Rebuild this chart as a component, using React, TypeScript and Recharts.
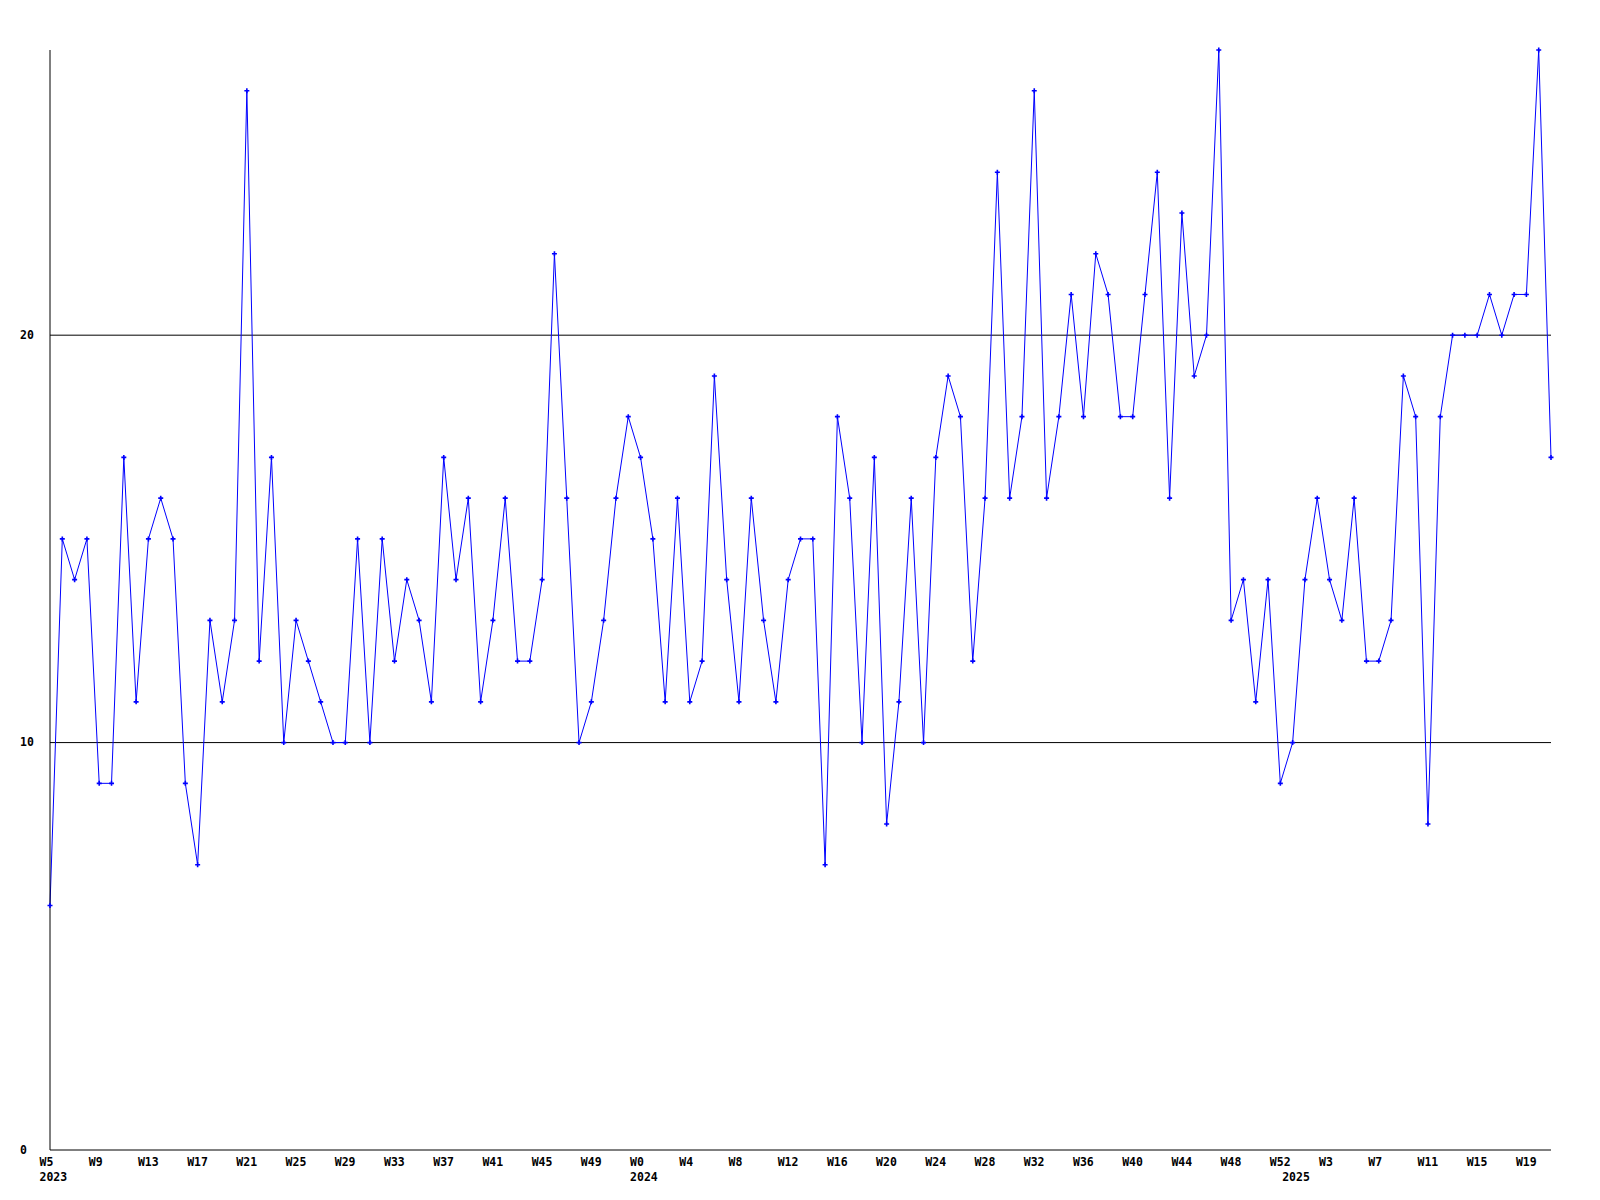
import React from "react";
import { LineChart, Line, XAxis, YAxis, CartesianGrid } from "recharts";

// week ranges per year (first week shown, last week shown)
const YEARS = [
  { year: "2023", from: 5, to: 52 },
  { year: "2024", from: 0, to: 52 },
  { year: "2025", from: 0, to: 21 },
];

const VALUES = [
  6, 15, 14, 15, 9, 9, 17, 11, 15, 16, 15, 9, 7, 13, 11, 13, 26, 12, 17, 10,
  13, 12, 11, 10, 10, 15, 10, 15, 12, 14, 13, 11, 17, 14, 16, 11, 13, 16, 12, 12,
  14, 22, 16, 10, 11, 13, 16, 18, 17, 15, 11, 16, 11, 12, 19, 14, 11, 16, 13, 11,
  14, 15, 15, 7, 18, 16, 10, 17, 8, 11, 16, 10, 17, 19, 18, 12, 16, 24, 16, 18,
  26, 16, 18, 21, 18, 22, 21, 18, 18, 21, 24, 16, 23, 19, 20, 27, 13, 14, 11, 14,
  9, 10, 14, 16, 14, 13, 16, 12, 12, 13, 19, 18, 8, 18, 20, 20, 20, 21, 20, 21,
  21, 27, 17,
];

const Y_TICKS = [0, 10, 20];
const GRID_LINES = [10, 20];

const FONT = "'DejaVu Sans Mono', monospace";

const weeks: { week: number; year: string; first: boolean }[] = [];
YEARS.forEach((y) => {
  for (let w = y.from; w <= y.to; w++) weeks.push({ week: w, year: y.year, first: w === y.from });
});

const data = VALUES.map((v, i) => ({ i, value: v, week: weeks[i].week, year: weeks[i].year, first: weeks[i].first }));

const XTick = (props: any) => {
  const { x, y, payload } = props;
  const d = data[payload.value];
  if (!d) return null;
  return (
    <g>
      {payload.value % 4 === 0 && (
        <text x={x - 10.5} y={y + 12} textAnchor="start" dominantBaseline="middle" fontFamily={FONT} fontWeight="bold" fontSize={11.5} fill="#000">
          {"W" + d.week}
        </text>
      )}
      {d.first && (
        <text x={x - 10.5} y={y + 27} textAnchor="start" dominantBaseline="middle" fontFamily={FONT} fontWeight="bold" fontSize={11.5} fill="#000">
          {d.year}
        </text>
      )}
    </g>
  );
};

const YTick = (props: any) => {
  const { y, payload } = props;
  return (
    <text x={20} y={y} textAnchor="start" dominantBaseline="middle" fontFamily={FONT} fontWeight="bold" fontSize={11.5} fill="#000">
      {payload.value}
    </text>
  );
};

const Marker = (props: any) => {
  const { cx, cy, index } = props;
  return (
    <path
      key={index}
      d={`M${cx - 2.5},${cy}L${cx + 2.5},${cy}M${cx},${cy - 2.5}L${cx},${cy + 2.5}`}
      stroke="#0000ff"
      strokeWidth={1.6}
      fill="none"
    />
  );
};

export default function App() {
  return (
    <div style={{ position: "absolute", left: 0, top: 0, width: 1600, height: 1200, background: "#fff" }}>
      <LineChart width={1600} height={1200} data={data} margin={{ top: 50, right: 49, bottom: 0, left: 0 }}>
        <CartesianGrid vertical={false} horizontalValues={GRID_LINES} stroke="#000" strokeWidth={1} />
        <XAxis
          dataKey="i"
          type="number"
          domain={[0, VALUES.length - 1]}
          ticks={data.map((d) => d.i)}
          interval={0}
          height={50}
          tickLine={false}
          tickSize={0}
          tickMargin={0}
          axisLine={{ stroke: "#000", strokeWidth: 1 }}
          tick={<XTick />}
        />
        <YAxis
          domain={[0, 27]}
          ticks={Y_TICKS}
          width={50}
          tickLine={false}
          tickSize={0}
          axisLine={{ stroke: "#000", strokeWidth: 1 }}
          tick={<YTick />}
        />
        <Line
          type="linear"
          dataKey="value"
          stroke="#0000ff"
          strokeWidth={1}
          dot={<Marker />}
          activeDot={false}
          isAnimationActive={false}
        />
      </LineChart>
    </div>
  );
}
